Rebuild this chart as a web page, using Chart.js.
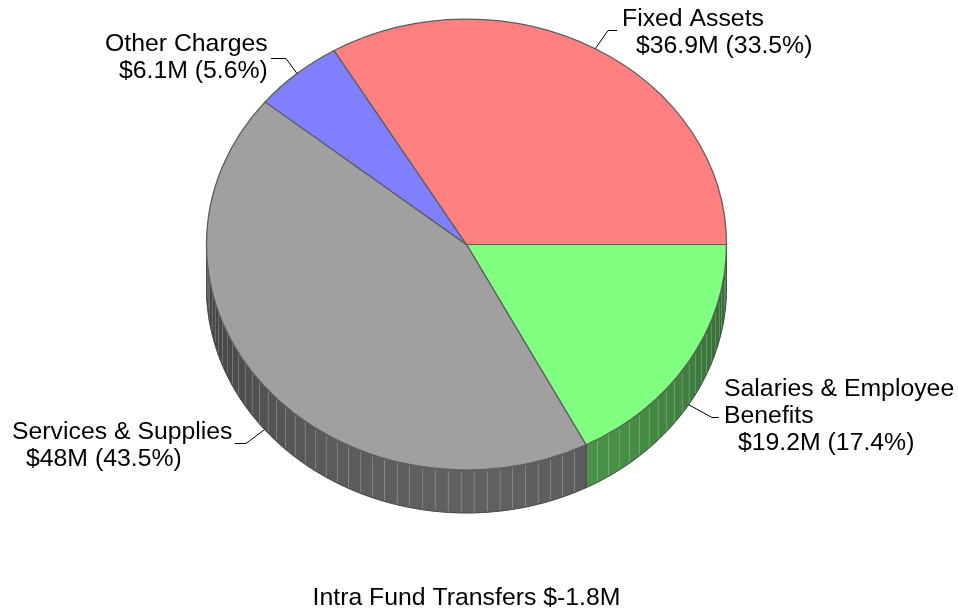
<!DOCTYPE html>
<html>
<head>
<meta charset="utf-8">
<script src="https://cdn.jsdelivr.net/npm/chart.js@4.4.1/dist/chart.umd.min.js"></script>
<style>
  html, body { margin: 0; padding: 0; background: #ffffff; }
  #wrap { width: 958px; height: 611px; position: relative; }
</style>
</head>
<body>
<div id="wrap"><canvas id="c" width="958" height="611"></canvas></div>
<script>
// Spending by category, listed clockwise starting at 3 o'clock
const categories = ['Salaries & Employee Benefits', 'Services & Supplies', 'Other Charges', 'Fixed Assets'];
const amountsM = [19.2, 48, 6.1, 36.9];
const percents = [17.4, 43.5, 5.6, 33.5];
const sliceColors = ['#80ff80', '#a0a0a0', '#8080ff', '#ff8080'];
// How each category name is broken over lines in its label
const nameLines = [['Salaries & Employee', 'Benefits'], ['Services & Supplies'], ['Other Charges'], ['Fixed Assets']];
// Item reported under the pie rather than as a slice
const transferName = 'Intra Fund Transfers';
const transferAmountM = -1.8;

// 3D look: vertical squash of the top face, wall thickness, and where the face sits
const TILT = 0.867;
const DEPTH = 43;
const LIFT = -16;
const FONT = '24.8px "Liberation Sans", Arial, Helvetica, sans-serif';
const VALUE_INDENT = 14;

// Callout layout per slice: text origin, elbow and end of the leader line
const callouts = [
  { tx: 724, ty: 396, elbow: [712, 417], end: [719, 417] },
  { tx: 12,  ty: 439, elbow: [246, 443], end: [235, 443] },
  { tx: 105, ty: 51,  elbow: [286, 58],  end: [271, 58] },
  { tx: 622, ty: 26,  elbow: [608, 30],  end: [617, 30] }
];

function hexToRgb(h) {
  const n = parseInt(h.slice(1), 16);
  return [(n >> 16) & 255, (n >> 8) & 255, n & 255];
}
function fmtMoney(v) { return '$' + v + 'M'; }

function geom(chart) {
  const arc = chart.getDatasetMeta(0).data[0];
  const p = arc.getProps(['x', 'y', 'outerRadius'], true);
  return { cx: p.x, cy: p.y + LIFT, rx: p.outerRadius, ry: p.outerRadius * TILT, pivot: p.y };
}
function pt(g, t, dy) {
  return [g.cx + g.rx * Math.cos(t), g.cy + g.ry * Math.sin(t) + (dy || 0)];
}

// Draws the front walls under the pie, then squashes the pie itself into an ellipse
const pie3d = {
  id: 'pie3d',
  beforeDatasetsDraw(chart) {
    const ctx = chart.ctx;
    const g = geom(chart);
    const meta = chart.getDatasetMeta(0);
    const TWO_PI = Math.PI * 2;
    meta.data.forEach((arc, i) => {
      const p = arc.getProps(['startAngle', 'endAngle'], true);
      let s = p.startAngle, e = p.endAngle;
      while (s < 0) { s += TWO_PI; e += TWO_PI; }
      while (s >= TWO_PI) { s -= TWO_PI; e -= TWO_PI; }
      const a0 = Math.max(s, 0), a1 = Math.min(e, Math.PI);
      if (a1 <= a0) return;
      const base = hexToRgb(sliceColors[i]);
      const n = Math.max(1, Math.ceil((a1 - a0) / 0.05));
      const step = (a1 - a0) / n;
      for (let k = 0; k < n; k++) {
        const t0 = a0 + k * step, t1 = t0 + step;
        const f = 0.38 + 0.22 * Math.sin((t0 + t1) / 2);
        ctx.fillStyle = 'rgb(' + base.map(c => Math.round(c * f)).join(',') + ')';
        ctx.beginPath();
        const q0 = pt(g, t0);
        ctx.moveTo(q0[0], q0[1]);
        const sub = 4;
        for (let j = 1; j <= sub; j++) { const q = pt(g, t0 + step * j / sub); ctx.lineTo(q[0], q[1]); }
        for (let j = sub; j >= 0; j--) { const q = pt(g, t0 + step * j / sub, DEPTH); ctx.lineTo(q[0], q[1]); }
        ctx.closePath();
        ctx.fill();
        ctx.strokeStyle = ctx.fillStyle;
        ctx.lineWidth = 0.6;
        ctx.stroke();
      }
      // facet seams
      ctx.strokeStyle = 'rgba(255,255,255,0.2)';
      ctx.lineWidth = 1;
      for (let k = 1; k < n; k++) {
        const t = a0 + k * step;
        const q = pt(g, t);
        const x = Math.round(q[0]) + 0.5;
        ctx.beginPath();
        ctx.moveTo(x, q[1] + 2);
        ctx.lineTo(x, q[1] + DEPTH - 1);
        ctx.stroke();
      }
      // wall outline
      ctx.strokeStyle = '#4a4a4a';
      ctx.lineWidth = 1;
      ctx.beginPath();
      const b0 = pt(g, a0), b1 = pt(g, a0, DEPTH);
      ctx.moveTo(b0[0], b0[1]);
      ctx.lineTo(b1[0], b1[1]);
      for (let j = 1; j <= 60; j++) { const q = pt(g, a0 + (a1 - a0) * j / 60, DEPTH); ctx.lineTo(q[0], q[1]); }
      const c1 = pt(g, a1);
      ctx.lineTo(c1[0], c1[1]);
      ctx.stroke();
    });
    ctx.save();
    ctx.translate(0, g.cy);
    ctx.scale(1, TILT);
    ctx.translate(0, -g.pivot);
  },
  afterDatasetsDraw(chart) {
    chart.ctx.restore();
  },
  afterDraw(chart) {
    const ctx = chart.ctx;
    const g = geom(chart);
    const meta = chart.getDatasetMeta(0);
    ctx.save();
    ctx.font = FONT;
    ctx.fillStyle = '#000000';
    ctx.textBaseline = 'alphabetic';
    ctx.textAlign = 'left';
    const LINE_H = 27;
    meta.data.forEach((arc, i) => {
      const p = arc.getProps(['startAngle', 'endAngle'], true);
      let mid = (p.startAngle + p.endAngle) / 2;
      mid = ((mid % (Math.PI * 2)) + Math.PI * 2) % (Math.PI * 2);
      const front = mid > 0 && mid < Math.PI;
      const start = pt(g, mid, front ? DEPTH : 0);
      const c = callouts[i];
      ctx.strokeStyle = '#000000';
      ctx.lineWidth = 1;
      ctx.beginPath();
      ctx.moveTo(start[0], start[1]);
      ctx.lineTo(c.elbow[0], c.elbow[1] + 0.5);
      ctx.lineTo(c.end[0], c.end[1] + 0.5);
      ctx.stroke();
      const lines = nameLines[i];
      lines.forEach((ln, k) => ctx.fillText(ln, c.tx, c.ty + k * LINE_H));
      const val = fmtMoney(amountsM[i]) + ' (' + percents[i].toFixed(1) + '%)';
      ctx.fillText(val, c.tx + VALUE_INDENT, c.ty + lines.length * LINE_H);
    });
    ctx.textAlign = 'center';
    ctx.fillText(transferName + ' ' + fmtMoney(transferAmountM), g.cx, 605);
    ctx.restore();
  }
};

new Chart(document.getElementById('c'), {
  type: 'pie',
  data: {
    labels: categories,
    datasets: [{
      data: percents,
      backgroundColor: sliceColors,
      borderColor: '#5c5c5c',
      borderWidth: 1.3,
      clip: false
    }]
  },
  options: {
    responsive: false,
    animation: false,
    events: [],
    rotation: 90,
    radius: 260,
    layout: { padding: { left: 206, right: 231, top: 0, bottom: 90 } },
    plugins: { legend: { display: false }, tooltip: { enabled: false } }
  },
  plugins: [pie3d]
});
</script>
</body>
</html>
